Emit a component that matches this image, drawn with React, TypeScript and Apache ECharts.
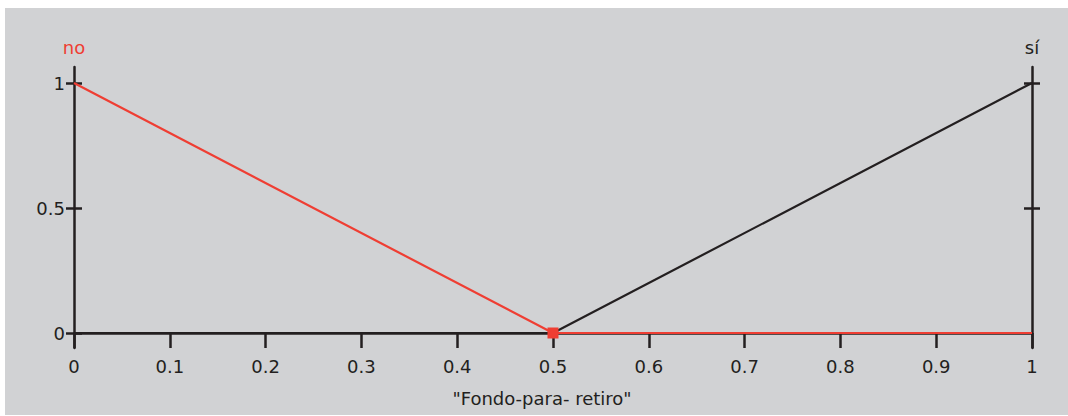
import React, { useEffect, useRef } from "react";
import * as echarts from "echarts";

const noSeries: [number, number][] = [[0, 1], [0.5, 0], [1, 0]];
const siSeries: [number, number][] = [[0, 0], [0.5, 0], [1, 1]];
const yTickValues = [0, 0.5, 1];
const yRightTickValues = [0.5, 1];
const xAxisName = '"Fondo-para- retiro"';
const leftName = "no";
const rightName = "sí";

const RED = "#ef3e33";
const DARK = "#231f20";
const FONT = "DejaVu Sans";

export default function App() {
  const ref = useRef<HTMLDivElement>(null);
  useEffect(() => {
    if (!ref.current) return;
    const chart = echarts.init(ref.current, undefined, { renderer: "svg" });
    const yBase = {
      type: "value",
      min: -0.06,
      max: 1.064,
      splitLine: { show: false },
    };
    const axisLineStyle = { color: DARK, width: 2.5 };
    chart.setOption({
      animation: false,
      backgroundColor: "#d1d2d4",
      textStyle: { fontFamily: FONT },
      grid: { left: 69, top: 59, width: 958, height: 281, containLabel: false, outerBoundsMode: "none" },
      xAxis: {
        type: "value",
        min: 0,
        max: 1,
        interval: 0.1,
        axisLine: { show: true, onZero: true, lineStyle: axisLineStyle },
        axisTick: { show: true, length: 15, lineStyle: { color: DARK, width: 2.5 } },
        axisLabel: { margin: 9, fontSize: 18, color: DARK, fontFamily: FONT },
        splitLine: { show: false },
        name: xAxisName,
        nameLocation: "middle",
        nameGap: 41,
        nameTextStyle: { fontSize: 18, color: DARK, fontFamily: FONT, padding: [0, 22, 0, 0] },
      },
      yAxis: [
        {
          ...yBase,
          position: "left",
          axisLine: { show: true, onZero: false, lineStyle: axisLineStyle },
          axisTick: { show: true, length: 8, customValues: yTickValues, lineStyle: { color: DARK, width: 2.5 } },
          axisLabel: { show: true, customValues: yTickValues, margin: 9, fontSize: 18, color: DARK, fontFamily: FONT },
          name: leftName,
          nameLocation: "end",
          nameGap: 11,
          nameTextStyle: { fontSize: 18, color: RED, fontFamily: FONT },
        },
        {
          ...yBase,
          position: "left",
          axisLine: { show: false, onZero: false },
          axisTick: { show: true, inside: true, length: 8, customValues: yTickValues, lineStyle: { color: DARK, width: 2.5 } },
          axisLabel: { show: false },
        },
        {
          ...yBase,
          position: "right",
          axisLine: { show: true, onZero: false, lineStyle: axisLineStyle },
          axisTick: { show: true, length: 8, customValues: yRightTickValues, lineStyle: { color: DARK, width: 2.5 } },
          axisLabel: { show: false },
          name: rightName,
          nameLocation: "end",
          nameGap: 11,
          nameTextStyle: { fontSize: 18, color: DARK, fontFamily: FONT },
        },
        {
          ...yBase,
          position: "right",
          axisLine: { show: false, onZero: false },
          axisTick: { show: true, inside: true, length: 8, customValues: yRightTickValues, lineStyle: { color: DARK, width: 2.5 } },
          axisLabel: { show: false },
        },
      ],
      series: [
        {
          name: rightName,
          type: "line",
          data: siSeries,
          symbol: "none",
          lineStyle: { color: DARK, width: 2.2 },
          itemStyle: { color: DARK },
          z: 3,
        },
        {
          name: leftName,
          type: "line",
          data: noSeries.map((p, i) =>
            i === 1
              ? { value: p, symbol: "rect", symbolSize: 11 }
              : { value: p, symbol: "none" }
          ),
          showAllSymbol: true,
          lineStyle: { color: RED, width: 2.2 },
          itemStyle: { color: RED },
          z: 4,
        },
      ],
    });
    return () => chart.dispose();
  }, []);
  return (
    <div
      ref={ref}
      style={{ position: "absolute", left: 5, top: 8, width: 1063, height: 407 }}
    />
  );
}
